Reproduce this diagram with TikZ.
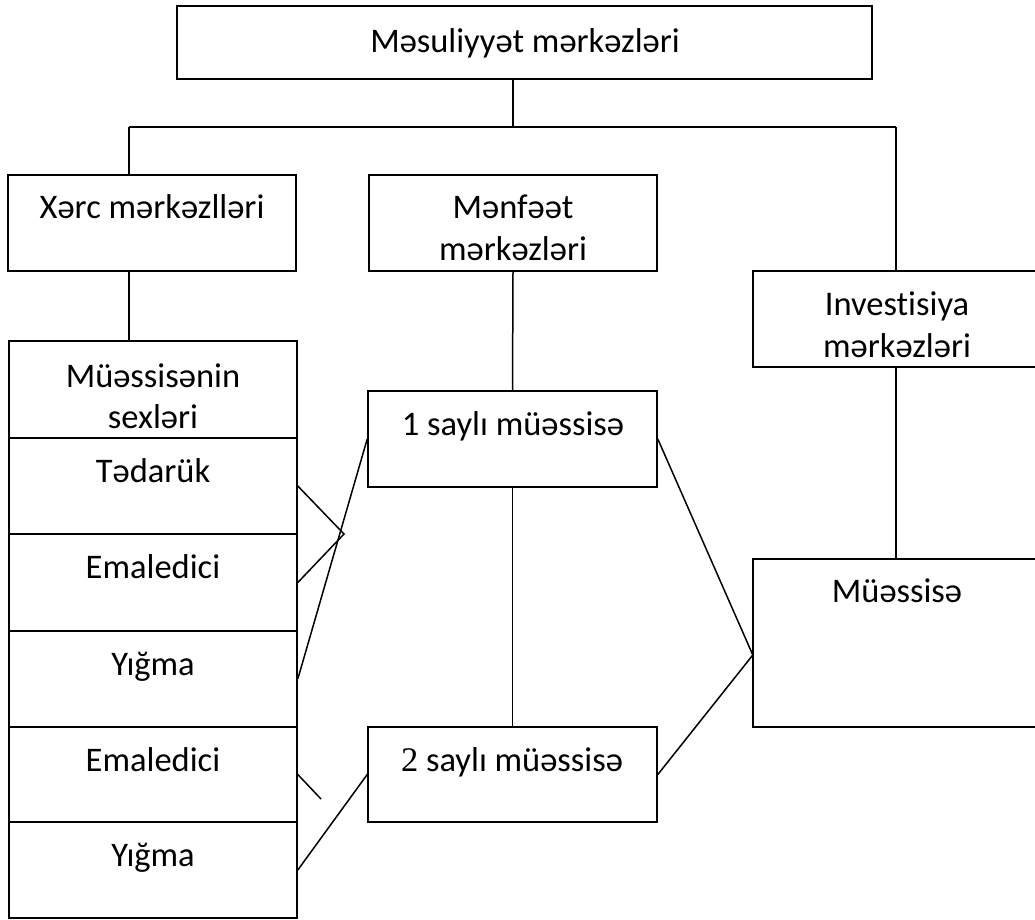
\documentclass[tikz,border=0pt]{standalone}
\usepackage{fontspec}
\setmainfont{Carlito}[Ligatures=NoCommon]
\newfontfamily\numfont{Liberation Serif}
\usetikzlibrary{calc}
\begin{document}
\begin{tikzpicture}[x=1pt,y=-1pt,
  box/.style={draw=black,line width=1.6pt,rectangle,inner sep=0pt,fill=white},
  openbox/.style={rectangle,inner sep=0pt},
  edge/.style={draw=black,line width=1.6pt},
  txt/.style={anchor=base,inner sep=0pt,font=\fontsize{34.5}{40}\selectfont},
  conn/.style={draw=black,line width=1.5pt}]
\useasboundingbox (0,0) rectangle (1035,919);
\coordinate (hbarL) at (129,127);
\coordinate (hbarR) at (896,127);
% boxes
\node[box,minimum width=695pt,minimum height=73pt] (top) at (524.5,42.5) {};
\node[box,minimum width=288pt,minimum height=96pt] (xerc) at (152,223) {};
\node[box,minimum width=288pt,minimum height=96pt] (menf) at (513,223) {};
\node[openbox,minimum width=300pt,minimum height=96pt] (inv) at (903,319) {};
\node[box,minimum width=288pt,minimum height=97pt] (sex) at (153,389.5) {};
\node[box,minimum width=288pt,minimum height=96pt] (r1) at (153,486) {};
\node[box,minimum width=288pt,minimum height=97pt] (r2) at (153,582.5) {};
\node[box,minimum width=288pt,minimum height=96pt] (r3) at (153,679) {};
\node[box,minimum width=288pt,minimum height=95pt] (r4) at (153,774.5) {};
\node[box,minimum width=288pt,minimum height=96pt] (r5) at (153,870) {};
\node[box,minimum width=289pt,minimum height=96pt] (m1) at (512.5,439) {};
\node[box,minimum width=289pt,minimum height=95pt] (m2) at (512.5,774.5) {};
\node[openbox,minimum width=300pt,minimum height=168pt] (mu) at (903,643) {};
% boxes cut by the right margin: only three sides are seen
\draw[edge] (inv.north east) -- (inv.north west) -- (inv.south west) -- (inv.south east);
\draw[edge] (mu.north east) -- (mu.north west) -- (mu.south west) -- (mu.south east);
% tree connectors
\draw[conn] (top.south -| menf.north) -- (hbarL -| menf.north);
\draw[conn] (hbarL) -- (hbarR);
\draw[conn] (hbarL) -- (hbarL |- xerc.north);
\draw[conn] (hbarR) -- (hbarR |- inv.north);
\draw[conn] (hbarL |- xerc.south) -- (hbarL |- sex.north);
\draw[conn] (menf.south) -- (m1.north);
\draw[conn] (m1.south) -- (m2.north);
\draw[conn] (hbarR |- inv.south) -- (hbarR |- mu.north);
% cross connectors
\coordinate (apex) at (344,534);
\coordinate (stub) at (321,799);
\draw[conn] (r1.east) -- (apex) -- (r2.east);
\draw[conn] (r3.east) -- (m1.west);
\draw[conn] (r4.east) -- (stub);
\draw[conn] (r5.east) -- (m2.west);
\draw[conn] (m1.east) -- ([yshift=-12pt]mu.west) -- (m2.east);
% texts
\node[txt] (ttop) at (525,52) {Məsuliyyət mərkəzləri};
\node[txt] (txerc) at (152,218) {Xərc mərkəzlləri};
\node[txt] (tmenf1) at (513,218) {Mənfəət};
\node[txt] (tmenf2) at (513,260) {mərkəzləri};
\node[txt] (tinv1) at (897,315) {Investisiya};
\node[txt] (tinv2) at (897,357) {mərkəzləri};
\node[txt] (tsex1) at (153,387) {Müəssisənin};
\node[txt] (tsex2) at (153,428) {sexləri};
\node[txt] (tr1) at (153,482) {Tədarük};
\node[txt] (tr2) at (153,578) {Emaledici};
\node[txt] (tr3) at (153,675) {Yığma};
\node[txt] (tr4) at (153,771) {Emaledici};
\node[txt] (tr5) at (153,866) {Yığma};
\node[txt] (tm1) at (513,435) {1 saylı müəssisə};
\node[txt] (tm2) at (512,771) {{\numfont 2} saylı müəssisə};
\node[txt] (tmu) at (897,602) {Müəssisə};
\end{tikzpicture}
\end{document}
